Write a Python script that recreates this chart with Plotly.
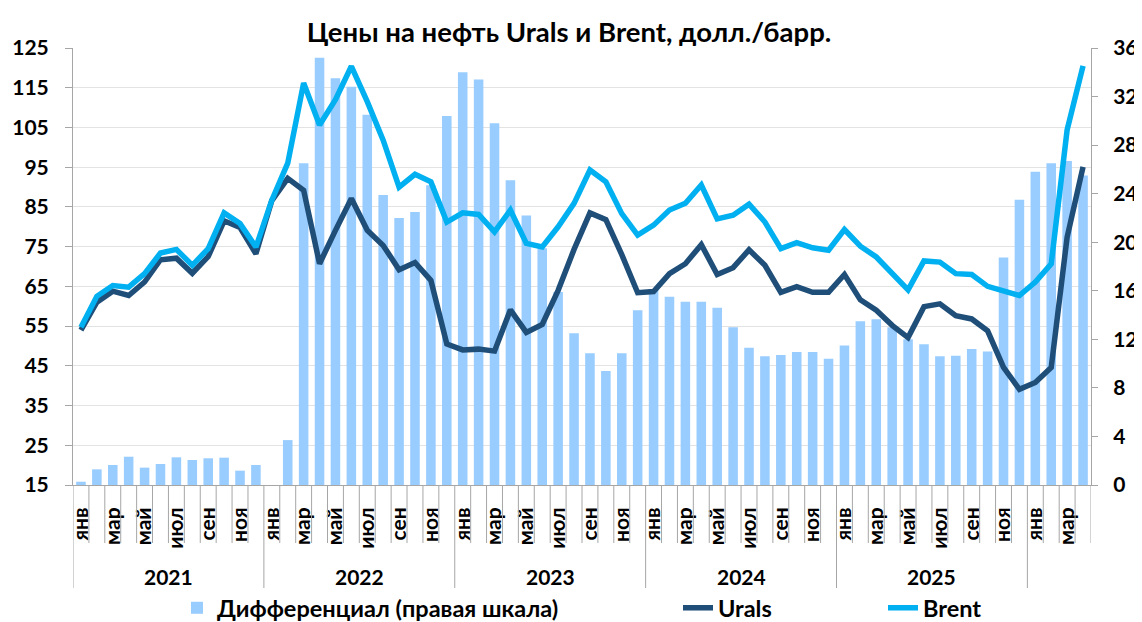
import plotly.graph_objects as go

# ---------------- data ----------------
month_names = ["янв", "фев", "мар", "апр", "май", "июн", "июл", "авг", "сен", "окт", "ноя", "дек"]
year_labels = ["2021", "2022", "2023", "2024", "2025", ""]
months_per_year = [12, 12, 12, 12, 12, 4]

brent = [
    54.7, 62.5, 65.2, 64.8, 68.2, 73.4, 74.3, 70.3, 74.5, 83.5, 80.8, 74.9,
    86.7, 96.0, 116.2, 105.6, 112.0, 120.4, 111.5, 101.8, 90.0, 93.2, 91.3, 81.2,
    83.5, 83.1, 78.7, 84.2, 75.8, 74.9, 80.0, 85.9, 94.3, 91.3, 83.3, 77.9,
    80.4, 84.2, 85.9, 90.5, 82.0, 82.9, 85.7, 81.2, 74.5, 76.0, 74.7, 74.1,
    79.3, 75.1, 72.4, 68.2, 64.1, 71.4, 71.1, 68.2, 68.0, 65.0, 63.8, 62.7,
    66.1, 70.7, 104.4, 120.5,
]
urals = [
    54.0, 61.0, 63.8, 62.7, 66.1, 71.7, 72.1, 68.3, 72.5, 81.5, 79.8, 73.2,
    86.6, 92.2, 89.2, 70.7, 79.1, 87.1, 79.1, 75.3, 69.2, 71.0, 66.5, 50.5,
    49.0, 49.2, 48.7, 59.1, 53.4, 55.4, 64.0, 74.3, 83.5, 81.8, 73.0, 63.4,
    63.7, 68.2, 70.7, 75.5, 68.0, 69.7, 74.2, 70.3, 63.5, 64.9, 63.5, 63.5,
    68.0, 61.6, 59.0, 55.2, 52.1, 59.9, 60.6, 57.6, 56.8, 53.8, 44.6, 39.1,
    40.8, 44.6, 77.4, 95.1,
]
diff = [
    0.27, 1.29, 1.65, 2.33, 1.43, 1.73, 2.28, 2.06, 2.2, 2.25, 1.18, 1.65,
    -0.1, 3.7, 26.5, 35.2, 33.5, 32.8, 30.5, 23.9, 22.0, 22.5, 24.7, 30.4,
    34.0, 33.4, 29.8, 25.1, 22.2, 19.5, 15.9, 12.5, 10.85, 9.4, 10.85, 14.4,
    16.1, 15.5, 15.1, 15.1, 14.6, 13.0, 11.3, 10.6, 10.7, 10.95, 10.95, 10.4,
    11.5, 13.5, 13.65, 13.0, 12.0, 11.6, 10.6, 10.65, 11.2, 11.0, 18.75, 23.5,
    25.8, 26.5, 26.7, 25.5,
]

n = len(brent)
x = list(range(n))

FONT = "Lato, 'Open Sans', 'Noto Sans', sans-serif"
GRAY = "#A6A6A6"

# the page body has an 8px margin, so the figure is drawn 8px smaller
FIG_W, FIG_H = 1134, 614
ML, MT = 65, 40
PLOT_W, PLOT_H = 1018.0, 437.0

fig = go.Figure()

fig.add_trace(go.Bar(
    x=x, y=diff, name="Дифференциал (правая шкала)", yaxis="y",
    marker=dict(color="#99CCFF", line=dict(width=0)), width=0.6,
    legend="legend",
))
fig.add_trace(go.Scatter(
    x=x, y=urals, name="Urals", yaxis="y2", mode="lines",
    line=dict(color="#1F4E79", width=5.5), legend="legend2",
))
fig.add_trace(go.Scatter(
    x=x, y=brent, name="Brent", yaxis="y2", mode="lines",
    line=dict(color="#00B0F0", width=5.5), legend="legend3",
))

# month tick labels (every other month)
tickvals = [i for i in x if i % 2 == 0]
ticktext = [month_names[i % 12] for i in tickvals]

shapes = []
annotations = []
start = 0
for gi, cnt in enumerate(months_per_year):
    end = start + cnt
    shapes.append(dict(type="line", xref="x", yref="paper", x0=start - 0.5, x1=start - 0.5,
                       y0=0, y1=-103 / PLOT_H, line=dict(color=GRAY, width=1)))
    for k in range(start + 1, end):
        shapes.append(dict(type="line", xref="x", yref="paper", x0=k - 0.5, x1=k - 0.5,
                           y0=0, y1=-58 / PLOT_H, line=dict(color=GRAY, width=1)))
    if year_labels[gi]:
        annotations.append(dict(text="<b>%s</b>" % year_labels[gi], xref="x", yref="paper",
                                x=(start + end - 1) / 2.0, y=-91 / PLOT_H, showarrow=False,
                                font=dict(size=21, color="black", family=FONT),
                                xanchor="center", yanchor="middle"))
    start = end
shapes.append(dict(type="line", xref="x", yref="paper", x0=n - 0.5, x1=n - 0.5,
                   y0=0, y1=-58 / PLOT_H, line=dict(color=GRAY, width=1)))

legend_font = dict(size=23.5, family=FONT, weight="bold", color="black")
leg_y = -123 / PLOT_H

fig.update_layout(
    width=FIG_W, height=FIG_H,
    margin=dict(l=ML, r=FIG_W - ML - int(PLOT_W), t=MT, b=FIG_H - MT - int(PLOT_H), autoexpand=False),
    paper_bgcolor="white", plot_bgcolor="white",
    font=dict(family=FONT, color="black"),
    title=dict(text="<b>Цены на нефть Urals и Brent, долл./барр.</b>", x=561 / FIG_W, xanchor="center",
               y=1 - 24 / FIG_H, yanchor="middle", yref="container",
               font=dict(size=27.5, color="black", family=FONT)),
    xaxis=dict(range=[-0.5, n - 0.5], tickmode="array", tickvals=tickvals, ticktext=ticktext,
               tickangle=-90, ticks="", showline=True, linecolor=GRAY, linewidth=1,
               showgrid=False, zeroline=False, ticklabelstandoff=13,
               tickfont=dict(size=21, color="black", family=FONT, weight="bold")),
    yaxis=dict(side="right", range=[0, 36], dtick=4, tick0=0, showgrid=False, zeroline=False,
               showline=True, linecolor=GRAY, ticks="outside", ticklen=6, tickcolor=GRAY,
               ticklabelstandoff=11,
               tickfont=dict(size=21, color="black", family=FONT, weight="bold")),
    yaxis2=dict(side="left", overlaying="y", range=[15, 125], dtick=10, tick0=15,
                showgrid=True, gridcolor="#E3E3E3", gridwidth=1, zeroline=False,
                showline=True, linecolor=GRAY, ticks="outside", ticklen=7, tickcolor=GRAY,
                ticklabelstandoff=12,
                tickfont=dict(size=21, color="black", family=FONT, weight="bold")),
    shapes=shapes,
    annotations=annotations,
    showlegend=True,
    legend=dict(x=(177 - 73) / PLOT_W, y=leg_y, xanchor="left", yanchor="middle",
                bgcolor="rgba(0,0,0,0)", font=legend_font),
    legend2=dict(x=(678 - 73) / PLOT_W, y=leg_y, xanchor="left", yanchor="middle",
                 bgcolor="rgba(0,0,0,0)", font=legend_font),
    legend3=dict(x=(883 - 73) / PLOT_W, y=leg_y, xanchor="left", yanchor="middle",
                 bgcolor="rgba(0,0,0,0)", font=legend_font),
)

fig.write_html("out.html")
